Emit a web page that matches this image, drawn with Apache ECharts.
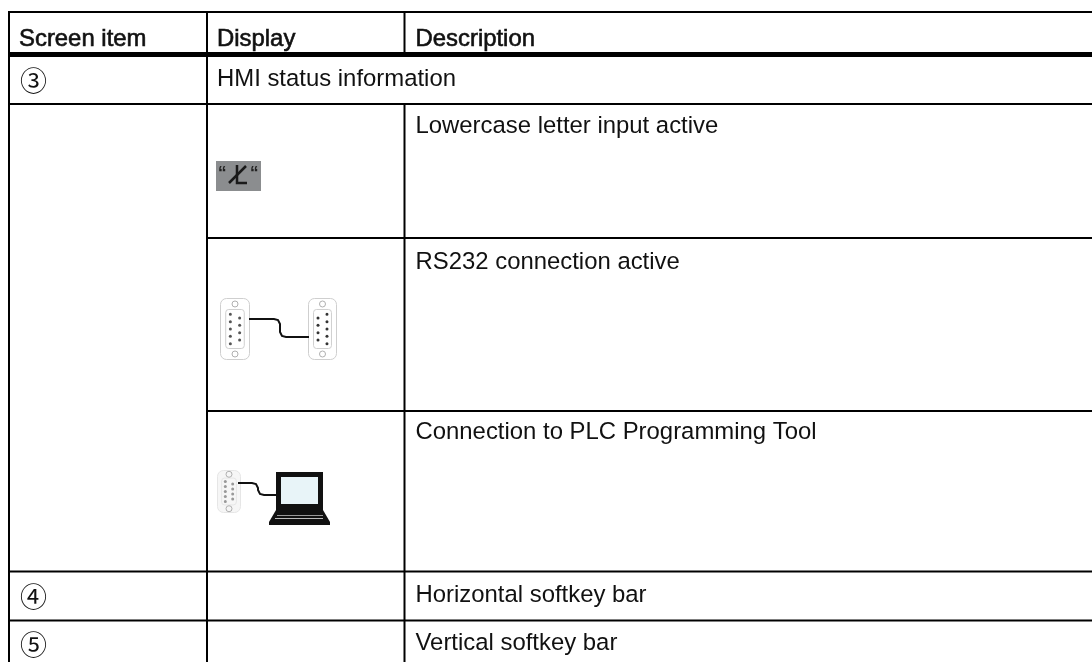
<!DOCTYPE html>
<html>
<head>
<meta charset="utf-8">
<title>HMI status table</title>
<style>
html, body { margin: 0; padding: 0; background: #fff; }
#main { width: 1092px; height: 662px; }
</style>
<script src="https://cdn.jsdelivr.net/npm/echarts@6/dist/echarts.min.js"></script>
</head>
<body>
<div id="main"></div>
<script>
// table content
var headers = ['Screen item', 'Display', 'Description'];
var screenItems = ['③', '④', '⑤'];
var spanRow = 'HMI status information';
var descriptions = [
    'Lowercase letter input active',
    'RS232 connection active',
    'Connection to PLC Programming Tool',
    'Horizontal softkey bar',
    'Vertical softkey bar'
];

// table layout, in page pixels
var colEdges = [9, 207, 404.5];
var rowEdges = [12, 54.5, 104, 238, 411, 571.5, 620.5];
var textRows = [39, 79.5, 126.5, 262, 432.5, 595.5, 643.5];
var pageW = 1092, pageH = 662;
var FONT = '"Liberation Sans", Arial, sans-serif';

// [x1, y1, x2, y2, width]
var rules = [
    [colEdges[0] - 1, rowEdges[0], pageW, rowEdges[0], 2],
    [colEdges[0] - 1, rowEdges[1], pageW, rowEdges[1], 5],
    [colEdges[0], rowEdges[2], pageW, rowEdges[2], 2],
    [colEdges[1], rowEdges[3], pageW, rowEdges[3], 2],
    [colEdges[1], rowEdges[4], pageW, rowEdges[4], 2],
    [colEdges[0], rowEdges[5], pageW, rowEdges[5], 2],
    [colEdges[0], rowEdges[6], pageW, rowEdges[6], 2],
    [colEdges[0], rowEdges[0], colEdges[0], pageH, 2],
    [colEdges[1], rowEdges[0], colEdges[1], pageH, 2],
    [colEdges[2], rowEdges[0], colEdges[2], rowEdges[1], 2],
    [colEdges[2], rowEdges[2], colEdges[2], pageH, 2]
];

// [x, y, text, kind] kind: 0 body, 1 header, 2 circled item
var labels = [
    [colEdges[0] + 10, textRows[0], headers[0], 1],
    [colEdges[1] + 10, textRows[0], headers[1], 1],
    [colEdges[2] + 11, textRows[0], headers[2], 1],
    [colEdges[0] + 11, textRows[1] + 1, screenItems[0], 2],
    [colEdges[1] + 10, textRows[1], spanRow, 0],
    [colEdges[2] + 11, textRows[2], descriptions[0], 0],
    [colEdges[2] + 11, textRows[3], descriptions[1], 0],
    [colEdges[2] + 11, textRows[4], descriptions[2], 0],
    [colEdges[0] + 11, textRows[5] + 1, screenItems[1], 2],
    [colEdges[2] + 11, textRows[5], descriptions[3], 0],
    [colEdges[0] + 11, textRows[6] + 1, screenItems[2], 2],
    [colEdges[2] + 11, textRows[6], descriptions[4], 0]
];

// 9 pin d-sub connector drawn as a small graphic group
function connector(x, y, w, h, mirrored, pinColor, bodyFill, bodyStroke) {
    var kids = [{
        type: 'rect',
        shape: { x: 0, y: 0, width: w, height: h, r: 6 },
        style: { fill: bodyFill, stroke: bodyStroke, lineWidth: 1 }
    }, {
        type: 'rect',
        shape: { x: w * 0.18, y: h * 0.18, width: w * 0.64, height: h * 0.64, r: 3 },
        style: { fill: bodyFill, stroke: bodyStroke, lineWidth: 1 }
    }, {
        type: 'circle',
        shape: { cx: w / 2, cy: h * 0.09, r: 3 },
        style: { fill: bodyFill, stroke: '#b0b0b0', lineWidth: 1 }
    }, {
        type: 'circle',
        shape: { cx: w / 2, cy: h * 0.91, r: 3 },
        style: { fill: bodyFill, stroke: '#b0b0b0', lineWidth: 1 }
    }];
    var i;
    for (i = 0; i < 5; i++) {
        kids.push({
            type: 'circle',
            shape: { cx: mirrored ? w * 0.66 : w * 0.34, cy: h * (0.26 + i * 0.12), r: 1.5 },
            style: { fill: pinColor }
        });
    }
    for (i = 0; i < 4; i++) {
        kids.push({
            type: 'circle',
            shape: { cx: mirrored ? w * 0.34 : w * 0.66, cy: h * (0.32 + i * 0.12), r: 1.5 },
            style: { fill: pinColor }
        });
    }
    return { type: 'group', x: x, y: y, children: kids };
}

function cable(x1, y1, xm, y2, x2) {
    return {
        type: 'polyline',
        shape: {
            points: [[x1, y1], [xm - 6, y1], [xm - 2, y1 + 1], [xm, y1 + 5],
                [xm, y2 - 5], [xm + 2, y2 - 1], [xm + 6, y2], [x2, y2]]
        },
        style: { fill: 'none', stroke: '#111', lineWidth: 2 }
    };
}

var icons = [
    // lowercase key
    { type: 'rect', shape: { x: 216, y: 161, width: 45, height: 30 }, style: { fill: '#8b8d8f' } },
    { type: 'text', x: 218, y: 165, style: { text: '“', font: 'bold 17px ' + FONT, fill: '#222' } },
    { type: 'text', x: 250, y: 165, style: { text: '“', font: 'bold 17px ' + FONT, fill: '#222' } },
    { type: 'polyline', shape: { points: [[237, 165], [237, 183], [247, 183]] }, style: { fill: 'none', stroke: '#1a1a1a', lineWidth: 2.5 } },
    { type: 'polyline', shape: { points: [[229, 183], [246, 166]] }, style: { fill: 'none', stroke: '#1a1a1a', lineWidth: 2.5 } },
    // RS232 link
    connector(220.5, 298.5, 29, 61, false, '#555', '#fff', '#cfcfcf'),
    connector(308.5, 298.5, 28, 61, true, '#333', '#fff', '#cfcfcf'),
    cable(249, 319, 280, 337, 309),
    // PLC programming tool
    connector(217.5, 470.5, 23, 42, false, '#999', '#f6f6f6', '#e6e6e6'),
    cable(238, 483, 258, 495, 276),
    { type: 'rect', shape: { x: 276, y: 472, width: 47, height: 38 }, style: { fill: '#111' } },
    { type: 'rect', shape: { x: 281, y: 477, width: 37, height: 27 }, style: { fill: '#e8f4f8' } },
    { type: 'polygon', shape: { points: [[276, 510], [323, 510], [330, 522], [330, 525], [269, 525], [269, 522]] }, style: { fill: '#111' } },
    { type: 'rect', shape: { x: 277, y: 515, width: 46, height: 1 }, style: { fill: '#999' } },
    { type: 'rect', shape: { x: 275, y: 518, width: 48, height: 1 }, style: { fill: '#bbb' } }
];

var myChart = echarts.init(document.getElementById('main'));
var option = {
    animation: false,
    backgroundColor: '#fff',
    grid: { left: 0, right: 0, top: 0, bottom: 0 },
    xAxis: { type: 'value', min: 0, max: pageW, show: false },
    yAxis: { type: 'value', min: 0, max: pageH, inverse: true, show: false },
    graphic: icons,
    series: [{
        type: 'custom',
        silent: true,
        clip: false,
        data: rules,
        encode: { x: [0, 2], y: [1, 3] },
        renderItem: function (params, api) {
            var a = api.coord([api.value(0), api.value(1)]);
            var b = api.coord([api.value(2), api.value(3)]);
            var w = api.value(4);
            return {
                type: 'rect',
                shape: {
                    x: a[0] - (a[0] === b[0] ? w / 2 : 0),
                    y: a[1] - (a[1] === b[1] ? w / 2 : 0),
                    width: a[0] === b[0] ? w : b[0] - a[0],
                    height: a[1] === b[1] ? w : b[1] - a[1]
                },
                style: { fill: '#000' }
            };
        }
    }, {
        type: 'custom',
        silent: true,
        clip: false,
        data: labels.map(function (row) { return [row[0], row[1]]; }),
        encode: { x: 0, y: 1 },
        renderItem: function (params, api) {
            var p = api.coord([api.value(0), api.value(1)]);
            var row = labels[params.dataIndex];
            var circled = row[3] === 2;
            return {
                type: 'text',
                x: p[0],
                y: p[1],
                style: {
                    text: row[2],
                    font: circled ? '27px "Noto Sans CJK JP"' : '23.9px ' + FONT,
                    fill: '#111',
                    verticalAlign: 'middle',
                    stroke: row[3] === 1 ? '#111' : null,
                    lineWidth: row[3] === 1 ? 0.6 : 0
                }
            };
        }
    }]
};
myChart.setOption(option);
window.addEventListener('resize', function () {
    myChart.resize();
});
</script>
</body>
</html>
